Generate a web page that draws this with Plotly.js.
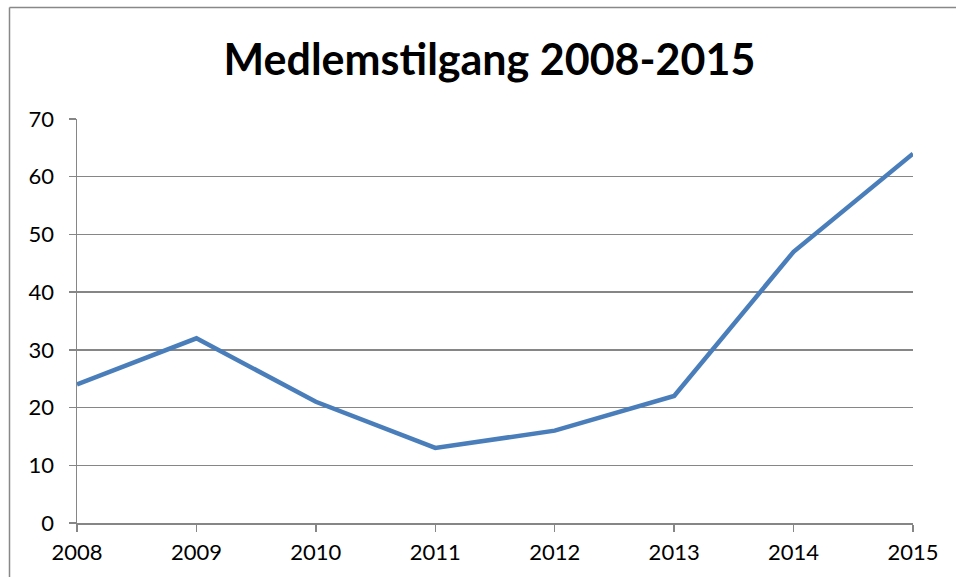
<!DOCTYPE html>
<html>
<head>
<meta charset="utf-8">
<script src="https://cdn.plot.ly/plotly-3.0.1.min.js"></script>
<style>
html,body{margin:0;padding:0;background:#fff;overflow:hidden;}
#chart{width:956px;height:577px;}
</style>
</head>
<body>
<div id="chart"></div>
<script>
const years = ['2008','2009','2010','2011','2012','2013','2014','2015'];
const members = [24, 32, 21, 13, 16, 22, 47, 64];
const yTicks = [0, 10, 20, 30, 40, 50, 60, 70];

const W = 956, H = 577;
const margin = {l: 77, r: 43, t: 119, b: 54};
const pw = W - margin.l - margin.r, ph = H - margin.t - margin.b;
const px = v => (v - margin.l) / pw;
const py = v => 1 - (v - margin.t) / ph;

const trace = {
  x: years.map(Number),
  y: members,
  type: 'scatter',
  mode: 'lines',
  line: {color: '#4a7ebb', width: 4.5},
  hoverinfo: 'x+y'
};

const layout = {
  width: W, height: H,
  margin: margin,
  paper_bgcolor: '#fff',
  plot_bgcolor: '#fff',
  showlegend: false,
  font: {family: 'Lato, "Liberation Sans", sans-serif', color: '#000', size: 22},
  title: {
    text: '<b>Medlemstilgang 2008-2015</b>',
    font: {family: 'Lato, "Liberation Sans", sans-serif', size: 43, color: '#000'},
    x: 0.512, xanchor: 'center',
    y: 1 - 60/H, yanchor: 'middle'
  },
  xaxis: {
    type: 'linear',
    range: [2008, 2015],
    tickvals: years.map(Number),
    ticktext: years,
    showgrid: false,
    zeroline: false,
    showline: true,
    linecolor: '#868686',
    linewidth: 1.5,
    ticks: 'outside',
    ticklen: 7,
    tickcolor: '#868686',
    tickwidth: 1.5,
    ticklabelstandoff: 2,
    tickfont: {size: 22}
  },
  yaxis: {
    range: [0, 70],
    tickvals: yTicks,
    showgrid: true,
    gridcolor: '#868686',
    gridwidth: 1.5,
    zeroline: false,
    showline: true,
    linecolor: '#868686',
    linewidth: 1.5,
    ticks: 'outside',
    ticklen: 7,
    tickcolor: '#868686',
    tickwidth: 1.5,
    ticklabelstandoff: 10,
    tickfont: {size: 22}
  },
  shapes: [
    {type: 'line', xref: 'paper', yref: 'paper', x0: px(9.5), x1: px(9.5), y0: py(7.5), y1: py(600),
     line: {color: '#888', width: 1.5}},
    {type: 'line', xref: 'paper', yref: 'paper', x0: px(9.5), x1: px(1000), y0: py(7.5), y1: py(7.5),
     line: {color: '#888', width: 1.5}}
  ]
};

Plotly.newPlot('chart', [trace], layout, {staticPlot: true, displayModeBar: false});
</script>
</body>
</html>
